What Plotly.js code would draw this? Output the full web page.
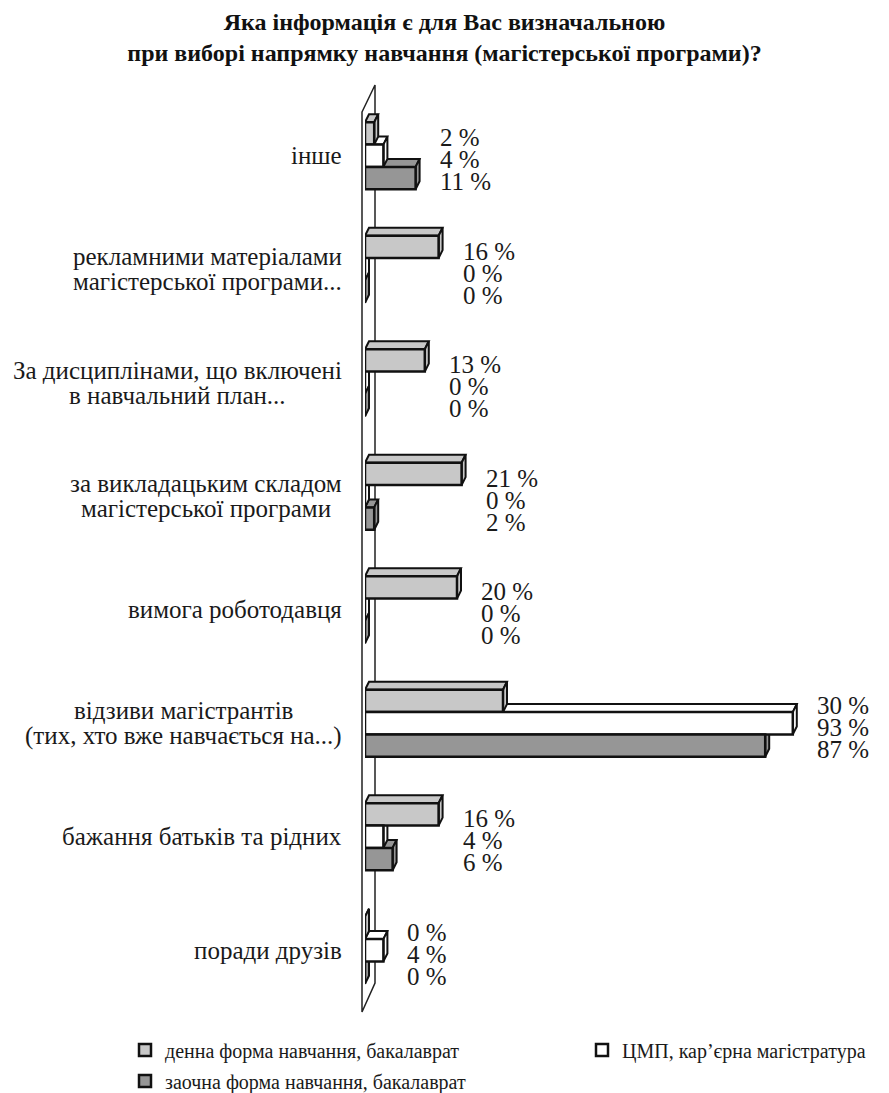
<!DOCTYPE html>
<html><head><meta charset="utf-8">
<script src="https://cdn.plot.ly/plotly-3.0.1.min.js"></script>
<style>body{margin:0;background:#fff}#chart{width:889px;height:1093px}</style>
</head><body><div id="chart"></div>
<script>
// ---------- data ----------
const categories = [
  ["інше"],
  ["рекламними матеріалами", "магістерської програми..."],
  ["За дисциплінами, що включені", "в навчальний план..."],
  ["за викладацьким складом", "магістерської програми"],
  ["вимога роботодавця"],
  ["відзиви магістрантів", "(тих, хто вже навчається на...)"],
  ["бажання батьків та рідних"],
  ["поради друзів"]
];
const seriesNames = ["денна форма навчання, бакалаврат", "ЦМП, кар’єрна магістратура", "заочна форма навчання, бакалаврат"];
const denna   = [2, 16, 13, 21, 20, 30, 16, 0];
const cmp     = [4, 0, 0, 0, 0, 93, 4, 4];
const zaochna = [11, 0, 0, 2, 0, 87, 6, 0];
const titleText = "Яка інформація є для Вас визначальною<br>при виборі напрямку навчання (магістерської програми)?";

// ---------- style / layout constants ----------
const seriesColors = ["#c8c8c8", "#ffffff", "#969696"];
const W = 889, H = 1093;
const ML = 365, MR = 41, MT = 99, MB = 86;
const PW = W - ML - MR, PH = H - MT - MB;
const XMAX = 105;
const BARGAP = 0.41;
const FONT = "Liberation Serif";
const LABEL_SIZE = 25;
const series = [denna, cmp, zaochna];
const idx = categories.map((c, i) => i);
const nCat = categories.length;
const pxX = PW / XMAX, pxY = PH / nCat;
const DX = 4 / pxX, DY = 8 / pxY;
const groupW = 1 - BARGAP, barW = groupW / series.length;
const EDGE = "#111";

const traces = series.map((vals, k) => ({
  type: "bar", orientation: "h",
  x: vals, y: idx,
  name: seriesNames[k],
  legend: k === 0 ? "legend" : (k === 1 ? "legend2" : "legend3"),
  marker: { color: seriesColors[k], line: { color: EDGE, width: 2.5 } },
  hoverinfo: "skip"
}));

// 3D faces of the bars
const tops = [], sides = [];
series.forEach((vals, k) => {
  vals.forEach((v, i) => {
    const c = i - groupW / 2 + (k + 0.5) * barW;
    const yT = c - barW / 2, yB = c + barW / 2;
    tops.push({
      type: "path", xref: "x", yref: "y", layer: "below",
      path: `M0,${yT} L${v},${yT} L${v + DX},${yT - DY} L${DX},${yT - DY} Z`,
      fillcolor: seriesColors[k], line: { color: EDGE, width: 2 }
    });
    sides.push({
      type: "path", xref: "x", yref: "y", layer: "below",
      path: `M${v},${yT} L${v + DX},${yT - DY} L${v + DX},${yB - DY} L${v},${yB} Z`,
      fillcolor: seriesColors[k], line: { color: EDGE, width: 2 }
    });
  });
});
const toPX = x => (x - ML) / PW;
const toPY = y => (MT + PH - y) / PH;
const wall = {
  type: "path", xref: "paper", yref: "paper", layer: "below",
  path: `M${toPX(362)},${toPY(112)} L${toPX(375)},${toPY(85)} L${toPX(375)},${toPY(983)} L${toPX(362)},${toPY(1012)} Z`,
  fillcolor: "#fff", line: { color: "#222", width: 1.5 }
};

// measure label widths with an SVG text node (same renderer as Plotly)
const NS = "http://www.w3.org/2000/svg";
const msvg = document.createElementNS(NS, "svg");
msvg.setAttribute("width", "10"); msvg.setAttribute("height", "10");
msvg.style.position = "absolute"; msvg.style.left = "-2000px";
const mtext = document.createElementNS(NS, "text");
mtext.setAttribute("style", `font-family: ${FONT}; font-size: ${LABEL_SIZE}px;`);
msvg.appendChild(mtext);
document.body.appendChild(msvg);
const measure = t => { mtext.textContent = t; return mtext.getComputedTextLength(); };

const annotations = [];
categories.forEach((lines, i) => {
  const widths = lines.map(measure);
  const maxW = Math.max(...widths);
  lines.forEach((t, j) => {
    annotations.push({
      text: t, xref: "x", yref: "y", x: 0, y: i, xanchor: "right", yanchor: "middle",
      xshift: -21 - (maxW - widths[j]) / 2,
      yshift: ((lines.length - 1) / 2 - j) * 25,
      showarrow: false, font: { family: FONT, size: LABEL_SIZE, color: "#1a1a1a" }
    });
  });
  const gmax = Math.max(...series.map(s => s[i]));
  series.forEach((s, k) => {
    annotations.push({
      text: s[i] + " %", xref: "x", yref: "y", x: gmax, y: i, xanchor: "left", yanchor: "middle",
      xshift: 22, yshift: -((k - 1) * 22 + 4),
      showarrow: false, font: { family: FONT, size: LABEL_SIZE, color: "#1a1a1a" }
    });
  });
});
document.body.removeChild(msvg);

const legendBase = { orientation: "h", xanchor: "left", yanchor: "middle", bgcolor: "rgba(0,0,0,0)",
  font: { family: FONT, size: 20, color: "#1a1a1a" } };

const layout = {
  width: W, height: H,
  margin: { l: ML, r: MR, t: MT, b: MB, pad: 0, autoexpand: false },
  paper_bgcolor: "#fff", plot_bgcolor: "#fff",
  font: { family: FONT },
  title: { text: "<b>" + titleText.replace("<br>", "</b><br><b>") + "</b>", x: 0.5, xanchor: "center", y: 1 - 30 / H, yanchor: "middle",
    font: { family: FONT, size: 24, color: "#111" } },
  barmode: "group", bargap: BARGAP, bargroupgap: 0,
  xaxis: { range: [0, XMAX], visible: false, fixedrange: true },
  yaxis: { range: [nCat - 0.5, -0.5], visible: false, fixedrange: true },
  showlegend: true,
  legend:  Object.assign({}, legendBase, { x: toPX(125), y: toPY(1050) }),
  legend2: Object.assign({}, legendBase, { x: toPX(582), y: toPY(1050) }),
  legend3: Object.assign({}, legendBase, { x: toPX(125), y: toPY(1081) }),
  shapes: [wall].concat(tops, sides),
  annotations: annotations
};

Plotly.newPlot("chart", traces, layout, { staticPlot: true, displayModeBar: false });
</script></body></html>
